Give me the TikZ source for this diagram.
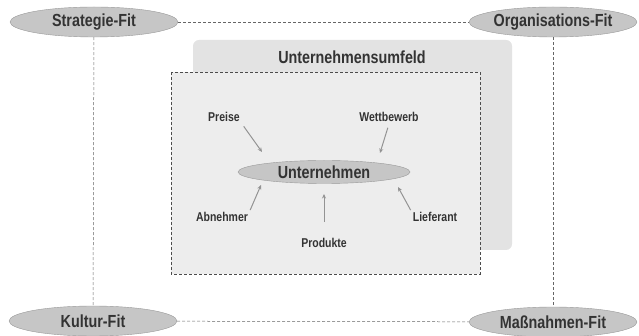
\documentclass[tikz,border=0pt]{standalone}
\usepackage{fontspec}
\setmainfont{Liberation Sans}[FakeStretch=0.82]
\usetikzlibrary{arrows.meta, positioning, shapes.geometric}

\begin{document}
\begin{tikzpicture}[x=1pt, y=-1pt,
        fitnode/.style={ellipse, draw=gray!80, fill=gray!45, minimum width=168pt, minimum height=30pt, inner sep=0pt, font=\bfseries\fontsize{17.5}{17.5}\selectfont, text=black!80},
        factor/.style={font=\bfseries\fontsize{12.8}{12.8}\selectfont, text=black!80, inner sep=2pt},
        link/.style={black!60, densely dashed, line width=0.5pt},
        arrow/.style={-{Stealth[length=4.5pt, width=4pt]}, gray!85, line width=1pt}]

        \useasboundingbox (0,0) rectangle (639,336);

        % Environment
        \fill[gray!22, rounded corners=6pt] (193,40) rectangle (512,250);
        \node[font=\bfseries\fontsize{17.5}{17.5}\selectfont, text=black!80] (umfeld) at (352,57) {Unternehmensumfeld};
        \draw[black!70, densely dashed, line width=0.6pt, fill=gray!14] (171,72) rectangle (480,274);

        % Fit nodes
        \node[fitnode] (strategie) at (94,22) {Strategie-Fit};
        \node[fitnode] (organisation) at (553,22) {Organisations-Fit};
        \node[fitnode] (kultur) at (93,321) {Kultur-Fit};
        \node[fitnode] (massnahmen) at (553,322) {Maßnahmen-Fit};

        % Company and factors
        \node[fitnode, minimum width=172pt, minimum height=23pt] (unternehmen) at (324,172) {Unternehmen};
        \node[factor] (preise) at (224,117) {Preise};
        \node[factor] (wettbewerb) at (389,117) {Wettbewerb};
        \node[factor] (abnehmer) at (222,217) {Abnehmer};
        \node[factor] (lieferant) at (435,217) {Lieferant};
        \node[factor] (produkte) at (324,243) {Produkte};

        \coordinate (preise-tip) at (262,152);
        \coordinate (wettbewerb-tip) at (380,153);
        \coordinate (abnehmer-tip) at (261,185);
        \coordinate (lieferant-tip) at (398,187);
        \coordinate (produkte-tip) at (324,194);

        % Links
        \draw[link] (strategie) -- (organisation);
        \draw[link] (strategie) -- (kultur);
        \draw[link] (organisation) -- (massnahmen);
        \draw[link] (kultur) -- (massnahmen);

        % Arrows
        \draw[arrow, shorten <=3pt] (preise.south east) -- (preise-tip);
        \draw[arrow, shorten <=4pt] (wettbewerb.south) -- (wettbewerb-tip);
        \draw[arrow] (abnehmer.north east) -- (abnehmer-tip);
        \draw[arrow] (lieferant.north west) -- (lieferant-tip);
        \draw[arrow, shorten <=14pt] (produkte.north) -- (produkte-tip);

    \end{tikzpicture}
\end{document}
